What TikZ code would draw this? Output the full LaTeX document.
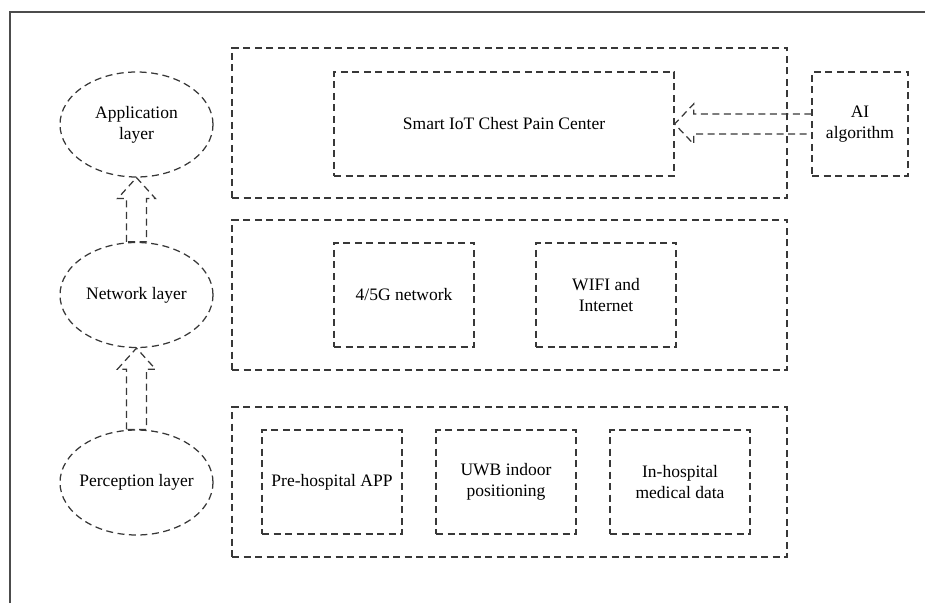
\documentclass[tikz,border=0pt]{standalone}
\usepackage{fontspec}
\setmainfont{Liberation Serif}
\usetikzlibrary{shapes.geometric,calc}
\def\uarr#1#2{\draw[dl] ([xshift=-10pt]#1.north) -- ([xshift=-10pt,yshift=-21pt]#2.south) -- ++(-9,0) -- (#2.south) -- ++(19,-21) -- ++(-9,0) -- ([xshift=10pt]#1.north) -- cycle;}

\begin{document}
\begin{tikzpicture}[x=1pt,y=1pt,
    dl/.style={draw=black!78,line width=1.25pt,dash pattern=on 7pt off 4.5pt},
    lay/.style={dl,ellipse,minimum width=153pt,minimum height=105pt,inner xsep=-5pt,inner ysep=0pt,align=center},
    box/.style={dl,rectangle,inner sep=0pt,align=center},
    every node/.style={font=\fontsize{17.5}{21}\selectfont}]
                \useasboundingbox (0,0) rectangle (925,603);
                \draw[black!70,line width=1.5pt] (10,0) -- (10,591) -- (925,591);
                % layers
                \node[lay] (appl) at (136.5,478.5) {Application\\layer};
                \node[lay] (netl) at (136.5,308) {Network layer};
                \node[lay] (perl) at (136.5,120.5) {Perception layer};
                \uarr{netl}{appl}
                \uarr{perl}{netl}
                % application
                \node[box,minimum width=555pt,minimum height=150pt] (apbox) at (509.5,480) {};
                \node[box,minimum width=340pt,minimum height=104pt] (chest) at (504,479) {Smart IoT Chest Pain Center};
                \node[box,minimum width=96pt,minimum height=104pt] (ai) at (860,479) {AI\\algorithm};
                \draw[dl] ([yshift=10pt]ai.west) -- ([xshift=19pt,yshift=10pt]chest.east) -- ++(0,10) -- (chest.east) -- ++(19,-20) -- ++(0,10) -- ([yshift=-10pt]ai.west);
                % network
                \node[box,minimum width=555pt,minimum height=150pt] (nebox) at (509.5,308) {};
                \node[box,minimum width=140pt,minimum height=104pt] (g45) at (404,308) {4/5G network};
                \node[box,minimum width=140pt,minimum height=104pt] (wifi) at (606,308) {WIFI and\\Internet};
                % perception
                \node[box,minimum width=555pt,minimum height=150pt] (pebox) at (509.5,121) {};
                \node[box,minimum width=140pt,minimum height=104pt] (pre) at (332,121) {Pre-hospital APP};
                \node[box,minimum width=140pt,minimum height=104pt] (uwb) at (506,121) {UWB indoor\\positioning};
                \node[box,minimum width=140pt,minimum height=104pt] (inh) at (680,121) {In-hospital\\medical data};
            \end{tikzpicture}
\end{document}
